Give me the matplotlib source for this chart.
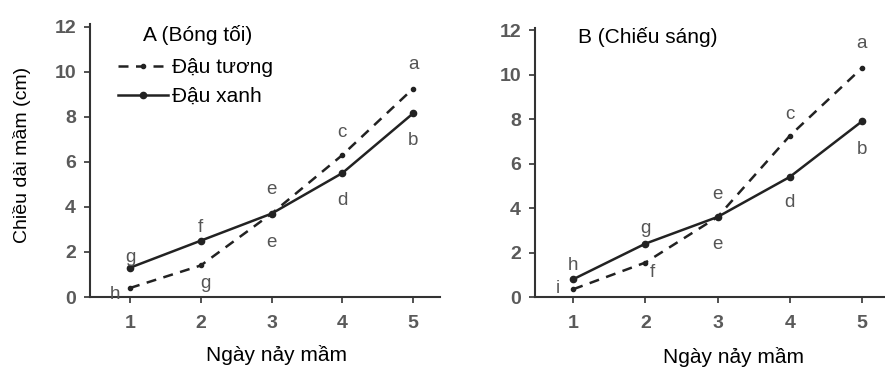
import matplotlib
matplotlib.use('Agg')
import matplotlib.pyplot as plt

plt.rcParams['font.family'] = ['Liberation Sans', 'DejaVu Sans']

days = [1, 2, 3, 4, 5]

# Panel A (Bóng tối)
a_dau_tuong = [0.4, 1.4, 3.7, 6.3, 9.25]
a_dau_xanh = [1.3, 2.5, 3.7, 5.5, 8.15]
a_letters_tuong = ['h', 'g', 'e', 'c', 'a']
a_letters_xanh = ['g', 'f', 'e', 'd', 'b']

# Panel B (Chiếu sáng)
b_dau_tuong = [0.35, 1.55, 3.6, 7.25, 10.3]
b_dau_xanh = [0.8, 2.4, 3.6, 5.4, 7.9]
b_letters_tuong = ['i', 'f', 'e', 'c', 'a']
b_letters_xanh = ['h', 'g', 'e', 'd', 'b']

line_col = '#222222'
letter_col = '#555555'

fig = plt.figure(figsize=(8.85, 3.67), dpi=100)
axA = fig.add_axes([0.1017, 0.1907, 0.3955, 0.743])
axB = fig.add_axes([0.6045, 0.1907, 0.3955, 0.733])


def draw_panel(ax, tuong, xanh, xlim):
    ax.plot(days, tuong, '--', color=line_col, lw=1.8, marker='o', ms=3,
            dashes=(4, 3), label='Đậu tương')
    ax.plot(days, xanh, '-', color=line_col, lw=1.8, marker='o', ms=4.5,
            label='Đậu xanh')
    ax.set_xlim(*xlim)
    ax.set_ylim(0, 12.1)
    ax.set_xticks(days)
    ax.set_yticks(range(0, 13, 2))
    for s in ['top', 'right']:
        ax.spines[s].set_visible(False)
    for s in ['left', 'bottom']:
        ax.spines[s].set_linewidth(1.5)
        ax.spines[s].set_color('#333333')
    ax.tick_params(axis='both', labelsize=14, colors='#333333',
                   labelcolor='#5a5a5a', length=4, width=1.2)
    ax.tick_params(axis='x', pad=9)
    ax.tick_params(axis='y', pad=6)
    for lab in ax.get_xticklabels() + ax.get_yticklabels():
        lab.set_fontweight('bold')


draw_panel(axA, a_dau_tuong, a_dau_xanh, (0.435, 5.38))
draw_panel(axB, b_dau_tuong, b_dau_xanh, (0.47, 5.32))

# significance letters
kw = dict(color=letter_col, fontsize=13.5, ha='center', va='center')
a_pos_tuong = [(0.79, 0.1), (2.07, 0.62), (3, 2.43), (4, 7.3), (5, 10.3)]
a_pos_xanh = [(1, 1.76), (2, 3.07), (3, 4.75), (4, 4.3), (5, 6.95)]
for (x, y), t in zip(a_pos_tuong, a_letters_tuong):
    axA.text(x, y, t, **kw)
for (x, y), t in zip(a_pos_xanh, a_letters_xanh):
    axA.text(x, y, t, **kw)

b_pos_tuong = [(0.78, 0.4), (2.1, 1.12), (3, 2.34), (4, 8.2), (5, 11.4)]
b_pos_xanh = [(1, 1.43), (2, 3.1), (3, 4.6), (4, 4.24), (5, 6.64)]
for (x, y), t in zip(b_pos_tuong, b_letters_tuong):
    axB.text(x, y, t, **kw)
for (x, y), t in zip(b_pos_xanh, b_letters_xanh):
    axB.text(x, y, t, **kw)

axA.text(1.18, 11.63, 'A (Bóng tối)', fontsize=15, ha='left', va='center')
axB.text(1.06, 11.7, 'B (Chiếu sáng)', fontsize=15, ha='left', va='center')

axA.legend(loc='upper left', bbox_to_anchor=(0.08, 0.875), frameon=False,
           fontsize=15, handlelength=2.4, handletextpad=0.2,
           labelspacing=0.45, borderpad=0, borderaxespad=0)

axA.set_ylabel('Chiều dài mầm (cm)', fontsize=14)
axA.yaxis.label.set_va('center')
axA.yaxis.set_label_coords(-0.194, 0.52)
axA.set_xlabel('Ngày nảy mầm', fontsize=15)
axA.xaxis.label.set_va('center')
axA.xaxis.set_label_coords(0.534, -0.213)
axB.set_xlabel('Ngày nảy mầm', fontsize=15)
axB.xaxis.label.set_va('center')
axB.xaxis.set_label_coords(0.566, -0.222)

plt.savefig('out.png', dpi=100)
plt.close()
